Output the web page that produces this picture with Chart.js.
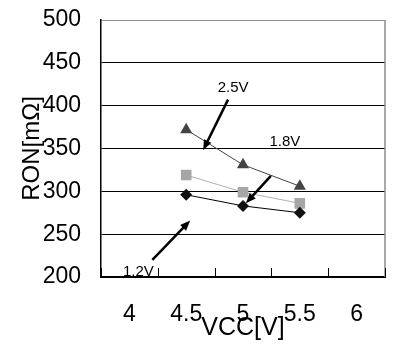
<!DOCTYPE html>
<html lang="en">
<head>
<meta charset="UTF-8">
<title>RON vs VCC</title>
<script src="https://cdn.jsdelivr.net/npm/chart.js"></script>
<style>
    html, body { margin: 0; padding: 0; background: #fff; }
    #wrap { width: 393px; height: 347px; }
</style>
</head>
<body>
<div id="wrap"><canvas id="ronChart"></canvas></div>
<script>
    // supply voltage categories and on-resistance per logic level
    const vccLabels = ['4', '4.5', '5', '5.5', '6'];
    const ron25 = [null, 372, 331, 306, null];
    const ron18 = [null, 319, 299, 286, null];
    const ron12 = [null, 296, 283, 275, null];
    const yTicks = [200, 250, 300, 350, 400, 450, 500];

    // callouts: text position and arrow (x as category index, y in mOhm)
    const callouts = [
        { text: '2.5V', at: [1.825, 421], from: [1.737, 407], to: [1.298, 348] },
        { text: '1.8V', at: [2.737, 358], from: [2.49, 318], to: [2.05, 286] },
        { text: '1.2V', at: [0.158, 206], from: [0.404, 220], to: [1.07, 266] }
    ];

    const font = 'Liberation Sans, Arial, sans-serif';

    const framePlugin = {
        id: 'frame',
        afterDraw(chart) {
            const { ctx, chartArea: a, scales: { x, y } } = chart;
            ctx.save();
            // right border
            ctx.strokeStyle = '#8c8c8c';
            ctx.lineWidth = 1.5;
            ctx.beginPath();
            ctx.moveTo(a.right, a.top);
            ctx.lineTo(a.right, a.bottom);
            ctx.stroke();
            // inside tick marks on the category axis
            ctx.strokeStyle = '#000';
            ctx.lineWidth = 1;
            for (let i = 0; i <= vccLabels.length; i++) {
                const px = Math.round(x.getPixelForValue(i - 0.5)) + 0.5;
                ctx.beginPath();
                ctx.moveTo(px, a.bottom);
                ctx.lineTo(px, a.bottom - 9);
                ctx.stroke();
            }
            // callout labels and arrows
            ctx.fillStyle = '#000';
            ctx.font = '15px ' + font;
            ctx.textAlign = 'center';
            ctx.textBaseline = 'middle';
            callouts.forEach(c => {
                ctx.fillText(c.text, x.getPixelForValue(c.at[0]), y.getPixelForValue(c.at[1]));
                const x1 = x.getPixelForValue(c.from[0]), y1 = y.getPixelForValue(c.from[1]);
                const x2 = x.getPixelForValue(c.to[0]), y2 = y.getPixelForValue(c.to[1]);
                const ang = Math.atan2(y2 - y1, x2 - x1);
                const head = 11;
                ctx.lineWidth = 2.5;
                ctx.beginPath();
                ctx.moveTo(x1, y1);
                ctx.lineTo(x2 - Math.cos(ang) * head * 0.7, y2 - Math.sin(ang) * head * 0.7);
                ctx.stroke();
                ctx.beginPath();
                ctx.moveTo(x2, y2);
                ctx.lineTo(x2 - head * Math.cos(ang - 0.38), y2 - head * Math.sin(ang - 0.38));
                ctx.lineTo(x2 - head * Math.cos(ang + 0.38), y2 - head * Math.sin(ang + 0.38));
                ctx.closePath();
                ctx.fill();
            });
            ctx.restore();
        }
    };

    new Chart(document.getElementById('ronChart'), {
        type: 'line',
        data: {
            labels: vccLabels,
            datasets: [
                {
                    label: '1.2V', data: ron12,
                    borderColor: '#000', backgroundColor: '#111', borderWidth: 1,
                    pointStyle: 'rectRot', pointRadius: 6, pointBorderWidth: 0
                },
                {
                    label: '1.8V', data: ron18,
                    borderColor: '#b0b0b0', backgroundColor: '#a6a6a6', borderWidth: 1,
                    pointStyle: 'rect', pointRadius: 7.5, pointBorderWidth: 0
                },
                {
                    label: '2.5V', data: ron25,
                    borderColor: '#444', backgroundColor: '#444', borderWidth: 1,
                    pointStyle: 'triangle', pointRadius: 7, pointBorderWidth: 0
                }
            ]
        },
        options: {
            responsive: true,
            maintainAspectRatio: false,
            animation: false,
            events: [],
            layout: { padding: { left: 18, right: 8, top: 20, bottom: 4 } },
            plugins: { legend: { display: false }, tooltip: { enabled: false } },
            scales: {
                x: {
                    type: 'category',
                    offset: true,
                    grid: { display: false, offset: true },
                    border: { color: '#000', width: 2 },
                    ticks: { color: '#000', font: { family: font, size: 23 }, padding: 16, maxRotation: 0 },
                    title: { display: true, text: 'VCC[V]', color: '#000', font: { family: font, size: 25 }, padding: 0 },
                    afterFit(s) { s.height = 66; s.paddingLeft = 0; s.paddingRight = 0; }
                },
                y: {
                    min: 200, max: 500,
                    afterBuildTicks(s) { s.ticks = yTicks.map(v => ({ value: v })); },
                    grid: {
                        drawTicks: false,
                        color: ctx => ctx.tick && ctx.tick.value === 500 ? '#8c8c8c' : '#000',
                        lineWidth: 1
                    },
                    border: { color: '#000', width: 1.5 },
                    ticks: { color: '#000', font: { family: font, size: 23 }, padding: 20 },
                    title: { display: true, text: 'RON[mΩ]', color: '#000', font: { family: font, size: 24 }, padding: 0 },
                    afterFit(s) { s.width = 83; s.paddingTop = 0; s.paddingBottom = 0; }
                }
            }
        },
        plugins: [framePlugin]
    });
</script>
</body>
</html>
